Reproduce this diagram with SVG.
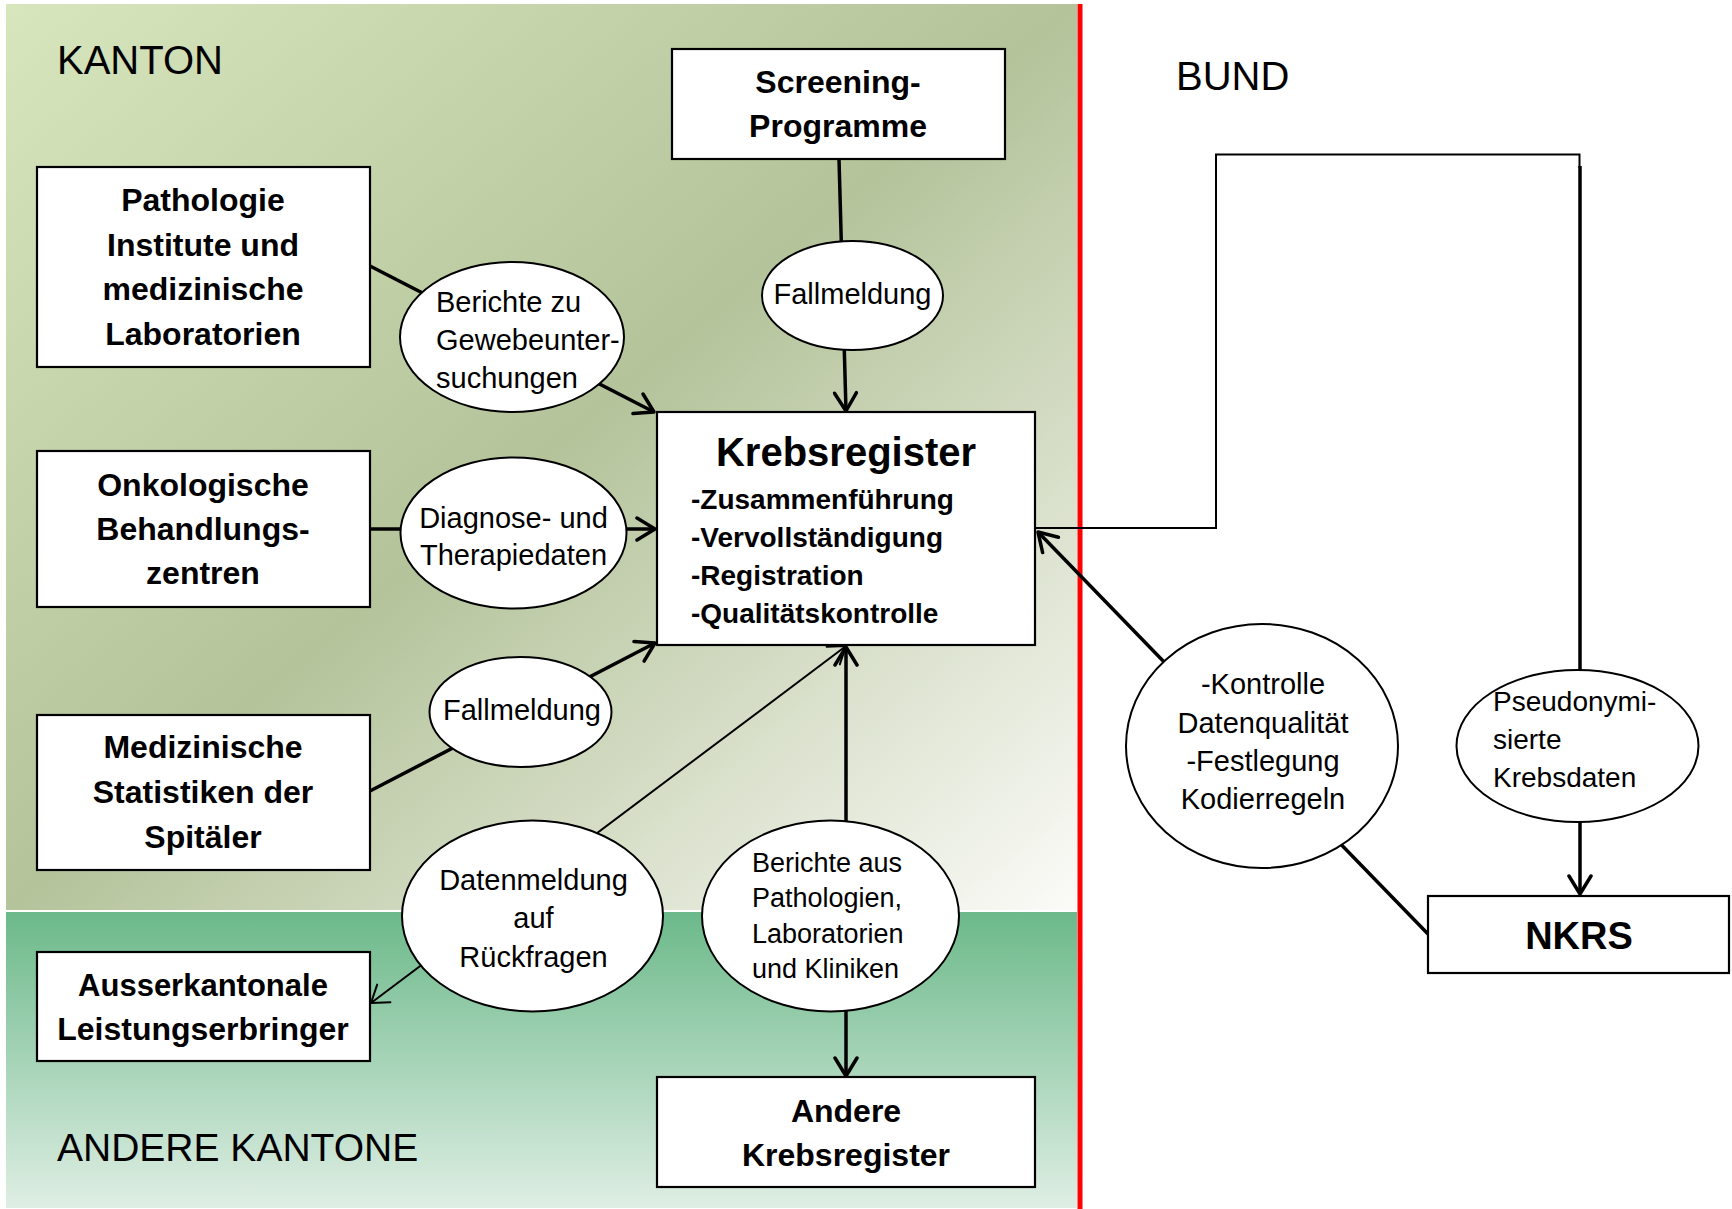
<svg xmlns="http://www.w3.org/2000/svg" width="1732" height="1209" viewBox="0 0 1732 1209">
<defs>
<linearGradient id="gKanton" x1="0" y1="0" x2="1" y2="1">
<stop offset="0" stop-color="#d8e6be"/>
<stop offset="0.5" stop-color="#b4c39a"/>
<stop offset="1" stop-color="#fbfbf8"/>
</linearGradient>
<linearGradient id="gAndere" x1="0" y1="0" x2="0" y2="1">
<stop offset="0" stop-color="#6cb98a"/>
<stop offset="1" stop-color="#dfeee4"/>
</linearGradient>
<marker id="ah" viewBox="0 0 24 26" refX="21" refY="13" markerWidth="24" markerHeight="26" markerUnits="userSpaceOnUse" orient="auto-start-reverse">
<path d="M3,2 L21,13 L3,24" fill="none" stroke="#000" stroke-width="3.5" stroke-linejoin="round" stroke-linecap="round"/>
</marker>
<marker id="ahThin" viewBox="0 0 22 26" refX="19" refY="13" markerWidth="22" markerHeight="26" markerUnits="userSpaceOnUse" orient="auto-start-reverse">
<path d="M3,2 L19,13 L3,24" fill="none" stroke="#000" stroke-width="2" stroke-linejoin="round" stroke-linecap="round"/>
</marker>
<style>
text{font-family:"Liberation Sans",Arial,sans-serif;fill:#000}
.region{font-size:40px}
.bx{font-size:32px;font-weight:bold;text-anchor:middle}
.kr{font-size:40px;font-weight:bold;text-anchor:middle}
.kri{font-size:28px;font-weight:bold}
.el{font-size:29px}
.elc{font-size:29px;text-anchor:middle}
.els{font-size:27px}
.box{fill:#fff;stroke:#000;stroke-width:2.2}
.ell{fill:#fff;stroke:#000;stroke-width:2}
.thick{stroke:#000;stroke-width:3.5;fill:none}
.thin{stroke:#000;stroke-width:2;fill:none}
</style>
</defs>
<rect x="0" y="0" width="1732" height="1209" fill="#fff"/>
<g id="backgrounds">
<rect x="6" y="4" width="1071" height="906" fill="url(#gKanton)"/>
<rect x="6" y="912" width="1071" height="296" fill="url(#gAndere)"/>
<rect x="1077.5" y="4" width="5" height="1205" fill="#ff0000"/>
</g>
<g id="region-labels">
<text class="region" x="57" y="74">KANTON</text>
<text class="region" x="1176" y="90">BUND</text>
<text class="region" x="57" y="1161" style="font-size:39px">ANDERE KANTONE</text>
</g>
<g id="connectors">
<line class="thick" x1="370" y1="266" x2="654" y2="412" marker-end="url(#ah)"/>
<line class="thick" x1="839" y1="159" x2="846" y2="411" marker-end="url(#ah)"/>
<line class="thick" x1="370" y1="529" x2="655" y2="529" marker-end="url(#ah)"/>
<line class="thick" x1="370" y1="791" x2="655" y2="643" marker-end="url(#ah)"/>
<line class="thin" x1="846" y1="646" x2="371" y2="1003" marker-start="url(#ahThin)" marker-end="url(#ahThin)"/>
<line class="thick" x1="846" y1="647" x2="846" y2="1076" marker-start="url(#ah)" marker-end="url(#ah)"/>
<polyline class="thin" points="1036,528 1216,528 1216,154.5 1579.5,154.5 1579.5,168"/>
<line class="thick" x1="1580" y1="166" x2="1580" y2="894" marker-end="url(#ah)"/>
<line class="thick" x1="1428" y1="934" x2="1038" y2="532" marker-end="url(#ah)"/>
</g>
<g id="node-screening">
<rect class="box" x="672" y="49" width="333" height="110"/>
<text class="bx" x="838" y="93">Screening-</text>
<text class="bx" x="838" y="137">Programme</text>
</g>
<g id="node-pathologie">
<rect class="box" x="37" y="167" width="333" height="200"/>
<text class="bx" x="203" y="211">Pathologie</text>
<text class="bx" x="203" y="256">Institute und</text>
<text class="bx" x="203" y="300">medizinische</text>
<text class="bx" x="203" y="345">Laboratorien</text>
</g>
<g id="node-onkologische">
<rect class="box" x="37" y="451" width="333" height="156"/>
<text class="bx" x="203" y="496">Onkologische</text>
<text class="bx" x="203" y="540">Behandlungs-</text>
<text class="bx" x="203" y="584">zentren</text>
</g>
<g id="node-medizinische">
<rect class="box" x="37" y="715" width="333" height="155"/>
<text class="bx" x="203" y="758">Medizinische</text>
<text class="bx" x="203" y="803">Statistiken der</text>
<text class="bx" x="203" y="848">Spitäler</text>
</g>
<g id="node-ausserkantonale">
<rect class="box" x="37" y="952" width="333" height="109"/>
<text class="bx" x="203" y="996" style="font-size:31px">Ausserkantonale</text>
<text class="bx" x="203" y="1040">Leistungserbringer</text>
</g>
<g id="node-krebsregister">
<rect class="box" x="657" y="412" width="378" height="233"/>
<text class="kr" x="846" y="466">Krebsregister</text>
<text class="kri" x="691" y="509">-Zusammenführung</text>
<text class="kri" x="691" y="547">-Vervollständigung</text>
<text class="kri" x="691" y="585">-Registration</text>
<text class="kri" x="691" y="623">-Qualitätskontrolle</text>
</g>
<g id="node-andere-krebsregister">
<rect class="box" x="657" y="1077" width="378" height="110"/>
<text class="bx" x="846" y="1122">Andere</text>
<text class="bx" x="846" y="1166">Krebsregister</text>
</g>
<g id="node-nkrs">
<rect class="box" x="1428" y="896" width="301" height="77"/>
<text x="1579" y="949" style="font-size:38px;font-weight:bold;text-anchor:middle">NKRS</text>
</g>
<g id="label-berichte-gewebe">
<ellipse class="ell" cx="512" cy="337" rx="112" ry="75"/>
<text class="el" x="436" y="312">Berichte zu</text>
<text class="el" x="436" y="350">Gewebeunter-</text>
<text class="el" x="436" y="388">suchungen</text>
</g>
<g id="label-fallmeldung-screening">
<ellipse class="ell" cx="852.5" cy="295.5" rx="90.5" ry="54.5"/>
<text class="elc" x="852.5" y="304">Fallmeldung</text>
</g>
<g id="label-diagnose">
<ellipse class="ell" cx="513.5" cy="533" rx="113" ry="75.5"/>
<text class="elc" x="513.5" y="528">Diagnose- und</text>
<text class="elc" x="513.5" y="565">Therapiedaten</text>
</g>
<g id="label-fallmeldung-spitaeler">
<ellipse class="ell" cx="520.5" cy="712" rx="91" ry="55"/>
<text class="elc" x="522" y="720">Fallmeldung</text>
</g>
<g id="label-datenmeldung">
<ellipse class="ell" cx="532.5" cy="916" rx="130.5" ry="95.5"/>
<text class="elc" x="533.5" y="890">Datenmeldung</text>
<text class="elc" x="533.5" y="928">auf</text>
<text class="elc" x="533.5" y="967">Rückfragen</text>
</g>
<g id="label-berichte-aus">
<ellipse class="ell" cx="830.5" cy="916" rx="128.5" ry="95.5"/>
<text class="els" x="752" y="872">Berichte aus</text>
<text class="els" x="752" y="907">Pathologien,</text>
<text class="els" x="752" y="943">Laboratorien</text>
<text class="els" x="752" y="978">und Kliniken</text>
</g>
<g id="label-kontrolle">
<ellipse class="ell" cx="1262" cy="746" rx="136" ry="122"/>
<text class="elc" x="1263" y="694">-Kontrolle</text>
<text class="elc" x="1263" y="733">Datenqualität</text>
<text class="elc" x="1263" y="771">-Festlegung</text>
<text class="elc" x="1263" y="809">Kodierregeln</text>
</g>
<g id="label-pseudonymisiert">
<ellipse class="ell" cx="1577.5" cy="746" rx="121" ry="76"/>
<text class="el" x="1493" y="711" style="font-size:28px">Pseudonymi-</text>
<text class="el" x="1493" y="749" style="font-size:28px">sierte</text>
<text class="el" x="1493" y="787" style="font-size:28px">Krebsdaten</text>
</g>
</svg>
